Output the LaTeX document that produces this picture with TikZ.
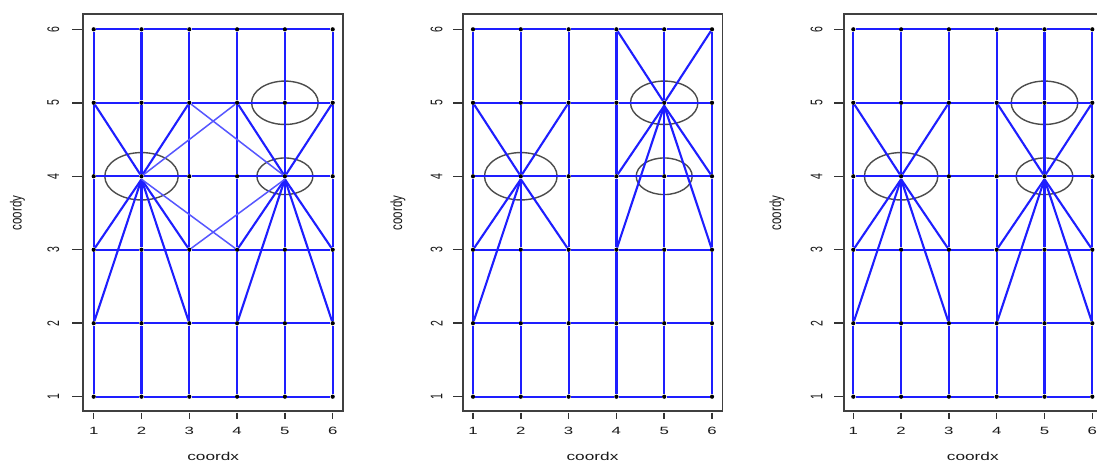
\documentclass[tikz,border=0pt]{standalone}
\usepackage{fontspec}
\setmainfont{Liberation Sans}
\usepackage{graphicx}
\newcommand\sxlab[2]{\scalebox{#1}[1]{#2}}
\newcommand\sylab[2]{\scalebox{#1}[1]{\rotatebox{90}{#2}}}
\definecolor{lblue}{RGB}{30,30,255}
\tikzset{
  dot/.style={circle,fill=black,inner sep=0pt,minimum size=4.2pt},
  gridln/.style={draw=lblue,line width=2.2pt},
  starln/.style={draw=lblue,line width=2.1pt},
  lightln/.style={draw=lblue!75,line width=1.5pt},
  ell/.style={draw=black!70,line width=1.4pt},
  frame/.style={draw=black!75,line width=1.8pt},
  tickln/.style={draw=black!80,line width=1.5pt},
  ticklab/.style={text=black!90,font=\fontsize{10.5}{11}\selectfont,inner sep=0pt},
  axtitle/.style={text=black!90,font=\fontsize{11.5}{12}\selectfont,inner sep=0pt},
}
% #1 name, #2 pixel x of x=1, #3 box left, #4 y tick label x, #5 coordy x
\newcommand\basepanel[5]{%
  \foreach \i in {1,...,6} {
    \foreach \j in {1,...,6} {
      \node[dot] (#1-\i-\j) at ({#2+(\i-1)*47.8},{396.7-(\j-1)*73.48}) {};
    }
  }
  \draw[frame] (#3,14) rectangle ({#2+5*47.8+10.5},411);
  \foreach \i in {1,...,6} {
    \draw[tickln] ({#2+(\i-1)*47.8},412.5) -- ++(0,6);
    \node[ticklab] (#1-xl\i) at ({#2+(\i-1)*47.8},431) {\sxlab{1.6}{\i}};
    \draw[tickln] ({#3-0.8},{396.7-(\i-1)*73.48}) -- ++(-9.5,0);
    \node[ticklab] (#1-yl\i) at (#4,{396.7-(\i-1)*73.48}) {\sylab{1.6}{\i}};
  }
  \node[axtitle] (#1-xt) at ({#2+119.5},456) {\sxlab{1.5}{coordx}};
  \node[axtitle] (#1-yt) at (#5,213) {\sylab{1.4}{coordy}};
}
\newcommand\gridlines[1]{%
  \foreach \i [evaluate=\i as \k using int(\i+1)] in {1,...,5} {
    \foreach \j in {1,...,6} {
      \draw[gridln] (#1-\i-\j) -- (#1-\k-\j);
      \draw[gridln] (#1-\j-\i) -- (#1-\j-\k);
    }
  }
}
\begin{document}
\begin{tikzpicture}[x=1pt,y=-1pt]
\clip (0,0) rectangle (1097,464);
\fill[white] (0,0) rectangle (1097,464);

% ---------- panel 1 ----------
\basepanel{A}{93.7}{82.7}{53.3}{17.5}
\draw[ell] (A-2-4.center) ellipse [x radius=36.7, y radius=23.7];
\draw[ell] (A-5-5.center) ellipse [x radius=33.3, y radius=21.7];
\draw[ell] (A-5-4.center) ellipse [x radius=28, y radius=18.3];
\gridlines{A}
\coordinate (A-d24) at ([yshift=-3pt]A-2-4.center);
\coordinate (A-d54) at ([yshift=-3pt]A-5-4.center);
\foreach \t in {1-5,3-5} \draw[starln] (A-2-4) -- (A-\t);
\foreach \t in {1-3,1-2,3-3,3-2} \draw[starln] (A-d24) -- (A-\t);
\foreach \t in {4-5,6-5} \draw[starln] (A-5-4) -- (A-\t);
\foreach \t in {4-3,4-2,6-3,6-2} \draw[starln] (A-d54) -- (A-\t);
\draw[lightln] (A-2-4) -- (A-4-5);
\draw[lightln] (A-d24) -- (A-4-3);
\draw[lightln] (A-3-5) -- (A-5-4);
\draw[lightln] (A-3-3) -- (A-d54);

% ---------- panel 2 ----------
\basepanel{B}{473}{463.3}{436.7}{398}
\draw[ell] (B-2-4.center) ellipse [x radius=36.3, y radius=23.7];
\draw[ell] (B-5-5.center) ellipse [x radius=33.7, y radius=21.7];
\draw[ell] (B-5-4.center) ellipse [x radius=28, y radius=18.3];
\gridlines{B}
\coordinate (B-d24) at ([yshift=-3pt]B-2-4.center);
\coordinate (B-d55) at ([yshift=-3pt]B-5-5.center);
\foreach \t in {1-5,3-5} \draw[starln] (B-2-4) -- (B-\t);
\foreach \t in {1-3,3-3,1-2} \draw[starln] (B-d24) -- (B-\t);
\foreach \t in {4-6,6-6} \draw[starln] (B-5-5) -- (B-\t);
\foreach \t in {4-4,6-4,4-3,6-3} \draw[starln] (B-d55) -- (B-\t);

% ---------- panel 3 ----------
\basepanel{C}{853.3}{844}{816.7}{777}
\draw[ell] (C-2-4.center) ellipse [x radius=36.7, y radius=23.7];
\draw[ell] (C-5-5.center) ellipse [x radius=33.3, y radius=21.7];
\draw[ell] (C-5-4.center) ellipse [x radius=28.3, y radius=18.3];
\gridlines{C}
\coordinate (C-d24) at ([yshift=-3pt]C-2-4.center);
\coordinate (C-d54) at ([yshift=-3pt]C-5-4.center);
\foreach \t in {1-5,3-5} \draw[starln] (C-2-4) -- (C-\t);
\foreach \t in {1-3,3-3,1-2,3-2} \draw[starln] (C-d24) -- (C-\t);
\foreach \t in {4-5,6-5} \draw[starln] (C-5-4) -- (C-\t);
\foreach \t in {4-3,6-3,4-2,6-2} \draw[starln] (C-d54) -- (C-\t);
\end{tikzpicture}
\end{document}
